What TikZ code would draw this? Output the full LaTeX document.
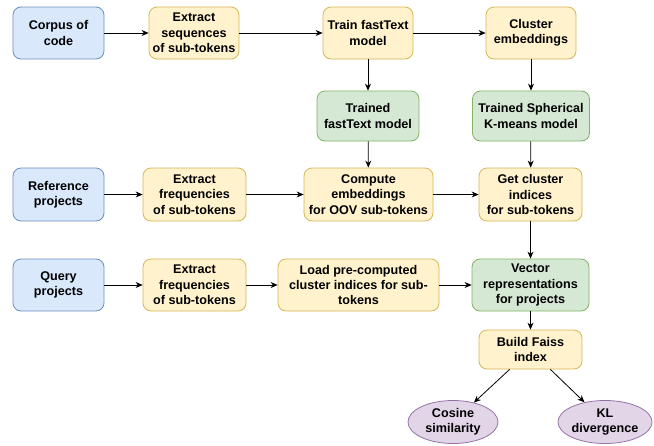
\documentclass[tikz,border=0pt]{standalone}
\usepackage{fontspec}
\setmainfont{Liberation Sans}
\usetikzlibrary{arrows.meta,shapes.geometric}
\definecolor{bfill}{HTML}{DAE8FC}\definecolor{bdraw}{HTML}{6C8EBF}
\definecolor{yfill}{HTML}{FFF2CC}\definecolor{ydraw}{HTML}{D6B656}
\definecolor{gfill}{HTML}{D5E8D4}\definecolor{gdraw}{HTML}{82B366}
\definecolor{pfill}{HTML}{E1D5E7}\definecolor{pdraw}{HTML}{9673A6}
\tikzset{
  x=1pt,y=-1pt,
  base/.style={rounded corners=8pt,line width=0.8pt,align=center,inner sep=0pt,
    font=\fontsize{12.6}{15.3}\selectfont\bfseries,text=black},
  bluebox/.style={base,fill=bfill,draw=bdraw},
  yelbox/.style={base,fill=yfill,draw=ydraw},
  grnbox/.style={base,fill=gfill,draw=gdraw},
  purell/.style={ellipse,line width=0.8pt,fill=pfill,draw=pdraw,align=center,inner sep=0pt,
    font=\fontsize{12.6}{15.3}\selectfont\bfseries,text=black},
  conn/.style={-{Stealth[length=7pt,width=6pt]},line width=0.8pt,black}
}
\begin{document}
\begin{tikzpicture}
\useasboundingbox (0,0) rectangle (654,445);
% row 1
\node[bluebox,minimum width=91pt,minimum height=52pt] (corpus) at (58.5,33) {Corpus of\\code};
\node[yelbox,minimum width=90pt,minimum height=52pt] (extseq) at (194,33) {Extract\\sequences\\of sub-tokens};
\node[yelbox,minimum width=90pt,minimum height=52pt] (train) at (368,33) {Train fastText\\model};
\node[yelbox,minimum width=90pt,minimum height=52pt] (cluster) at (531,33) {Cluster\\embeddings};
% row 2
\node[grnbox,minimum width=102pt,minimum height=50pt] (trft) at (368,116) {Trained\\fastText model};
\node[grnbox,minimum width=117pt,minimum height=50pt] (trkm) at (531,116) {Trained Spherical\\K-means model};
% row 3
\node[bluebox,minimum width=91pt,minimum height=53pt] (ref) at (58.5,194.5) {Reference\\projects};
\node[yelbox,minimum width=103pt,minimum height=53pt] (extfr1) at (194.5,194.5) {Extract\\frequencies\\of sub-tokens};
\node[yelbox,minimum width=129pt,minimum height=53pt] (comp) at (368.5,194.5) {Compute\\embeddings\\for OOV sub-tokens};
\node[yelbox,minimum width=103pt,minimum height=53pt] (getc) at (530.5,194.5) {Get cluster\\indices\\for sub-tokens};
% row 4
\node[bluebox,minimum width=91pt,minimum height=52pt] (query) at (58.5,285) {Query\\projects};
\node[yelbox,minimum width=103pt,minimum height=52pt] (extfr2) at (194.5,285) {Extract\\frequencies\\of sub-tokens};
\node[yelbox,minimum width=161pt,minimum height=52pt] (load) at (358.5,285) {Load pre-computed\\cluster indices for sub-\\tokens};
\node[grnbox,minimum width=117pt,minimum height=52pt] (vec) at (530.5,285) {Vector\\representations\\for projects};
% bottom
\node[yelbox,minimum width=103pt,minimum height=39pt] (faiss) at (530.5,349.5) {Build Faiss\\index};
\node[purell,minimum width=90pt,minimum height=43pt] (cos) at (453,422) {Cosine\\similarity};
\node[purell,minimum width=86pt,minimum height=43pt] (kl) at (605,422) {KL\\divergence};
% connectors
\draw[conn] (corpus) -- (extseq);
\draw[conn] (extseq) -- (train);
\draw[conn] (train) -- (cluster);
\draw[conn] (train) -- (trft);
\draw[conn] (cluster) -- (trkm);
\draw[conn] (trft) -- (comp);
\draw[conn] (trkm) -- (getc);
\draw[conn] (ref) -- (extfr1);
\draw[conn] (extfr1) -- (comp);
\draw[conn] (comp) -- (getc);
\draw[conn] (getc) -- (vec);
\draw[conn] (query) -- (extfr2);
\draw[conn] (extfr2) -- (load);
\draw[conn] (load) -- (vec);
\draw[conn] (vec) -- (faiss);
\draw[conn] ([xshift=31pt]faiss.south west) -- (cos);
\draw[conn] ([xshift=-32pt]faiss.south east) -- (kl);
\end{tikzpicture}
\end{document}
